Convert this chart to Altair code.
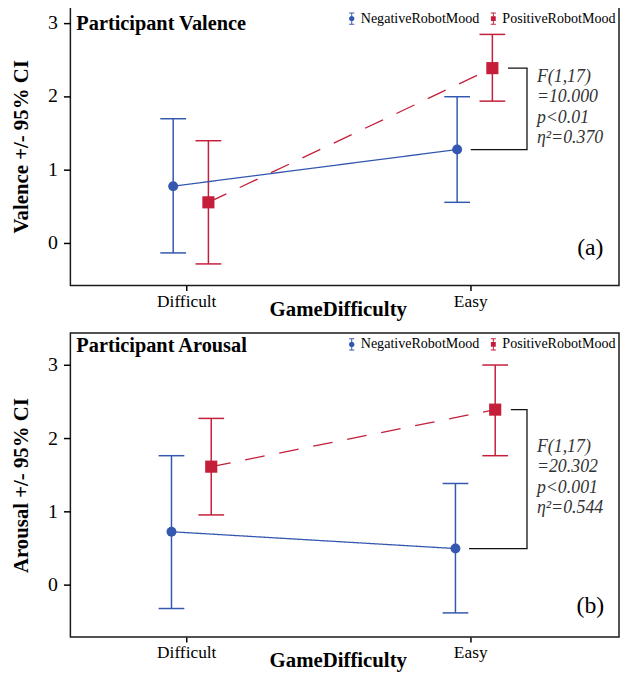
import altair as alt
import pandas as pd

# ---------------- data ----------------
difficulty = ["Difficult", "Easy"]
moods = ["NegativeRobotMood", "PositiveRobotMood"]

val_neg_mean = [0.77, 1.27]
val_neg_lo = [-0.14, 0.55]
val_neg_hi = [1.69, 1.99]
val_pos_mean = [0.55, 2.38]
val_pos_lo = [-0.29, 1.93]
val_pos_hi = [1.39, 2.84]

aro_neg_mean = [0.72, 0.49]
aro_neg_lo = [-0.33, -0.39]
aro_neg_hi = [1.76, 1.38]
aro_pos_mean = [1.61, 2.39]
aro_pos_lo = [0.95, 1.76]
aro_pos_hi = [2.27, 3.00]

val_stats = ["F(1,17)", "=10.000", "p<0.01", "η²=0.370"]
aro_stats = ["F(1,17)", "=20.302", "p<0.001", "η²=0.544"]

y_ticks = [0, 1, 2, 3]

BLUE = "#3457b0"
RED = "#c41e3a"
FONT = "Liberation Serif"

# legend icons: error bar + marker, drawn as filled sub-paths (all clockwise)
BAR = "M-0.08,-1H0.08V1H-0.08Z M-0.42,-1H0.42V-0.84H-0.42Z M-0.42,0.84H0.42V1H-0.42Z "
PATH_NEG = BAR + "M-0.45,0A0.45,0.45,0,1,1,0.45,0A0.45,0.45,0,1,1,-0.45,0Z"
PATH_POS = BAR + "M-0.4,-0.4H0.4V0.4H-0.4Z"

label_expr = "[" + ",".join(f"'{d}'" for d in difficulty) + "][datum.value - 1]"


def panel(title, ytitle, tag, neg, pos, ydom, height, dodge, title_y, tag_y, stats, leg_y):
    rows = []
    for mood, (m, lo, hi), off in zip(moods, [neg, pos], dodge):
        for i, d in enumerate(difficulty):
            rows.append(dict(mood=mood, diff=d, xpos=i + 1 + off,
                             mean=m[i], lo=lo[i], hi=hi[i]))
    df = pd.DataFrame(rows)

    e_neg = df[(df.mood == moods[0]) & (df["diff"] == difficulty[1])].iloc[0]
    e_pos = df[(df.mood == moods[1]) & (df["diff"] == difficulty[1])].iloc[0]
    xb = 2.2
    bracket = pd.DataFrame([
        dict(x=e_pos.xpos + 0.055, y=e_pos["mean"], o=0),
        dict(x=xb, y=e_pos["mean"], o=1),
        dict(x=xb, y=e_neg["mean"], o=2),
        dict(x=e_neg.xpos + 0.048, y=e_neg["mean"], o=3),
    ])
    stat_df = pd.DataFrame([dict(x=2.235, y=(e_pos["mean"] + e_neg["mean"]) / 2,
                                 t="\n".join(stats))])

    xscale = alt.Scale(domain=[0.592, 2.524], nice=False, zero=False)
    yscale = alt.Scale(domain=ydom, nice=False, zero=False)
    xaxis = alt.Axis(values=[1, 2], labelExpr=label_expr, title="GameDifficulty",
                     grid=False, domain=False, tickSize=5, tickWidth=1.5,
                     tickColor="black", labelFont=FONT, labelFontSize=17.5,
                     labelColor="black", labelPadding=2, titleFont=FONT,
                     titleFontSize=21, titleFontWeight="bold", titleColor="black",
                     titleX=270, titleY=13)
    yaxis = alt.Axis(values=y_ticks, format="d", title=ytitle, grid=False,
                     domain=False, tickSize=7, tickWidth=1.5, tickColor="black",
                     labelFont=FONT, labelFontSize=20, labelColor="black",
                     labelPadding=6, titleFont=FONT, titleFontSize=21,
                     titleFontWeight="bold", titleColor="black", titlePadding=16)

    legend = alt.Legend(
        title=None, orient="none", legendX=277, legendY=leg_y, direction="horizontal",
        padding=0, labelFont=FONT, labelFontSize=14.2, labelColor="black",
        labelOffset=2, columnPadding=7, symbolSize=150, symbolOpacity=1,
        symbolStrokeWidth=0)

    x = alt.X("xpos:Q", scale=xscale, axis=xaxis)
    cscale = alt.Scale(domain=moods, range=[BLUE, RED])
    color = alt.Color("mood:N", scale=cscale, legend=legend)

    base = alt.Chart(df)
    dummy = base.mark_point(filled=True, opacity=0).encode(
        x=x, y=alt.Y("mean:Q", scale=yscale, axis=yaxis), color=color,
        shape=alt.Shape("mood:N", scale=alt.Scale(domain=moods, range=[PATH_NEG, PATH_POS]),
                        legend=legend))
    rules = base.mark_rule(strokeWidth=1.5).encode(
        x=x, y=alt.Y("lo:Q"), y2="hi:Q", color=color)
    cap_lo = base.mark_tick(orient="horizontal", size=26, thickness=1.5, opacity=1).encode(
        x=x, y=alt.Y("lo:Q"), color=color)
    cap_hi = base.mark_tick(orient="horizontal", size=26, thickness=1.5, opacity=1).encode(
        x=x, y=alt.Y("hi:Q"), color=color)
    lines = base.mark_line(strokeWidth=1.3).encode(
        x=x, y=alt.Y("mean:Q"), color=color,
        strokeDash=alt.StrokeDash("mood:N", scale=alt.Scale(domain=moods, range=[[1, 0], [20, 15]]), legend=None),
        detail="mood:N")
    pts_neg = base.transform_filter(alt.datum.mood == moods[0]).mark_point(
        filled=True, opacity=1, shape="circle", size=100).encode(
        x=x, y=alt.Y("mean:Q"), color=color)
    pts_pos = base.transform_filter(alt.datum.mood == moods[1]).mark_point(
        filled=True, opacity=1, shape="square", size=150).encode(
        x=x, y=alt.Y("mean:Q"), color=color)

    br = alt.Chart(bracket).mark_line(color="#111", strokeWidth=1.3).encode(
        x=alt.X("x:Q"), y=alt.Y("y:Q"), order="o:Q")
    st = alt.Chart(stat_df).mark_text(
        align="left", baseline="middle", font=FONT, fontSize=18, fontStyle="italic",
        color="#333", lineBreak="\n", lineHeight=20.7, dy=-32.5).encode(
        x=alt.X("x:Q"), y=alt.Y("y:Q"), text="t:N")
    tg = alt.Chart(pd.DataFrame([dict(x=2.423, y=tag_y, t=tag)])).mark_text(
        align="center", baseline="middle", font=FONT, fontSize=24, color="black").encode(
        x=alt.X("x:Q"), y=alt.Y("y:Q"), text="t:N")
    ttl = alt.Chart(pd.DataFrame([dict(t=title)])).mark_text(
        align="left", baseline="alphabetic", font=FONT, fontSize=20.5,
        fontWeight="bold", color="black").encode(
        x=alt.value(6), y=alt.value(title_y), text="t:N")

    return alt.layer(dummy, rules, cap_lo, cap_hi, lines, pts_neg, pts_pos,
                     br, st, tg, ttl).properties(width=554, height=height)


pa = panel("Participant Valence", "Valence +/- 95% CI", "(a)",
           (val_neg_mean, val_neg_lo, val_neg_hi), (val_pos_mean, val_pos_lo, val_pos_hi),
           [-0.585, 3.21], 281, (-0.046, 0.078), 23, -0.07, val_stats, 4)
pb = panel("Participant Arousal", "Arousal +/- 95% CI", "(b)",
           (aro_neg_mean, aro_neg_lo, aro_neg_hi), (aro_pos_mean, aro_pos_lo, aro_pos_hi),
           [-0.721, 3.437], 307, (-0.052, 0.088), 19, -0.30, aro_stats, 4)

chart = alt.vconcat(pa, pb, spacing=12).resolve_scale(
    x="independent", y="independent", color="independent", shape="independent",
    strokeDash="independent"
).resolve_legend(color="independent", shape="independent").properties(
    padding={"left": 2, "top": -5, "right": 0, "bottom": 0}
).configure_view(stroke="#1a1a1a", strokeWidth=1.5)

chart.save("out.html", embed_options={"renderer": "svg", "actions": False})
